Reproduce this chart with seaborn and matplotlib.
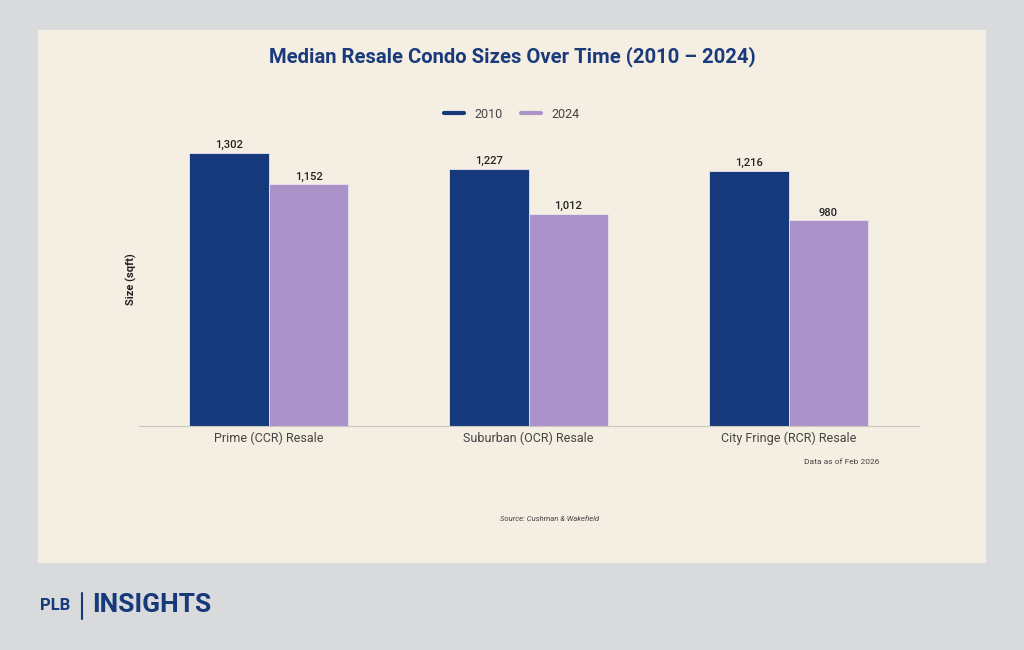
import numpy as np
import pandas as pd
import matplotlib
matplotlib.use("Agg")
import matplotlib.pyplot as plt
import seaborn as sns
from matplotlib.patches import Rectangle
from matplotlib.lines import Line2D

categories = ["Prime (CCR) Resale", "Suburban (OCR) Resale", "City Fringe (RCR) Resale"]
years = ["2010", "2024"]
sizes_2010 = [1302, 1227, 1216]
sizes_2024 = [1152, 1012, 980]

navy = "#15397a"
purple = "#ab92c8"
beige = "#f5efe3"
grey_bg = "#d9dadb"

df = pd.DataFrame({
    "category": categories * 2,
    "year": [years[0]] * 3 + [years[1]] * 3,
    "size": sizes_2010 + sizes_2024,
})

sns.set_theme(style="white")
plt.rcParams["font.family"] = ["Roboto", "DejaVu Sans"]

fig = plt.figure(figsize=(10.24, 6.5), dpi=100)
fig.patch.set_facecolor(grey_bg)
fig.patches.append(Rectangle((38 / 1024, 1 - 563 / 650), 948 / 1024, 533 / 650,
                             transform=fig.transFigure, facecolor=beige,
                             edgecolor="none", zorder=-10))

ax = fig.add_axes([138.5 / 1024, (650 - 426) / 650, 780 / 1024, 293.6 / 650])
ax.set_zorder(5)
ax.set_facecolor("none")
sns.barplot(data=df, x="category", y="size", hue="year", order=categories,
            hue_order=years, palette=[navy, purple], width=0.615,
            saturation=1, ax=ax, legend=False, linewidth=0.6, edgecolor="#e8e4ee")
ax.set_ylim(0, 1400)
ax.set_xlim(-0.5, 2.5)

for cont in ax.containers:
    ax.bar_label(cont, labels=[f"{v:,.0f}" for v in cont.datavalues],
                 padding=2, fontsize=8, color="#222222", fontweight="medium")

for s in ["top", "right", "left"]:
    ax.spines[s].set_visible(False)
ax.spines["bottom"].set_color("#c9c6c0")
ax.spines["bottom"].set_linewidth(0.8)
ax.set_yticks([])
ax.set_xlabel("")
ax.set_ylabel("Size (sqft)", fontsize=8, fontweight="bold", color="#222222", labelpad=1)
ax.tick_params(axis="x", length=0, pad=4, labelsize=9, labelcolor="#444444")

fig.text(0.5, 1 - 57 / 650, "Median Resale Condo Sizes Over Time (2010 \u2013 2024)",
         ha="center", va="center", fontsize=14.6, fontweight="bold", color="#1b3a7c")

handles = [Line2D([], [], color=navy, lw=3), Line2D([], [], color=purple, lw=3)]
fig.legend(handles, years, loc="center", bbox_to_anchor=(0.5, 1 - 114 / 650),
           ncol=2, frameon=False, fontsize=9, handlelength=1.6, columnspacing=1.5,
           labelcolor="#444444")

fig.text(842 / 1024, 1 - 462 / 650, "Data as of Feb 2026", ha="center", va="center",
         fontsize=6, color="#444444")
fig.text(550 / 1024, 1 - 519 / 650, "Source: Cushman & Wakefield", ha="center",
         va="center", fontsize=5.5, style="italic", color="#444444")

fig.text(40 / 1024, 1 - 606 / 650, "PLB", ha="left", va="center", fontsize=12,
         fontweight="bold", color=navy)
fig.add_artist(Line2D([82 / 1024, 82 / 1024], [1 - 593 / 650, 1 - 619 / 650],
                      color=navy, lw=1.5, transform=fig.transFigure))
fig.text(92 / 1024, 1 - 605 / 650, "INSIGHTS", ha="left", va="center", fontsize=19,
         fontweight="bold", color=navy)

fig.savefig("out.png", dpi=100, facecolor=fig.get_facecolor())
